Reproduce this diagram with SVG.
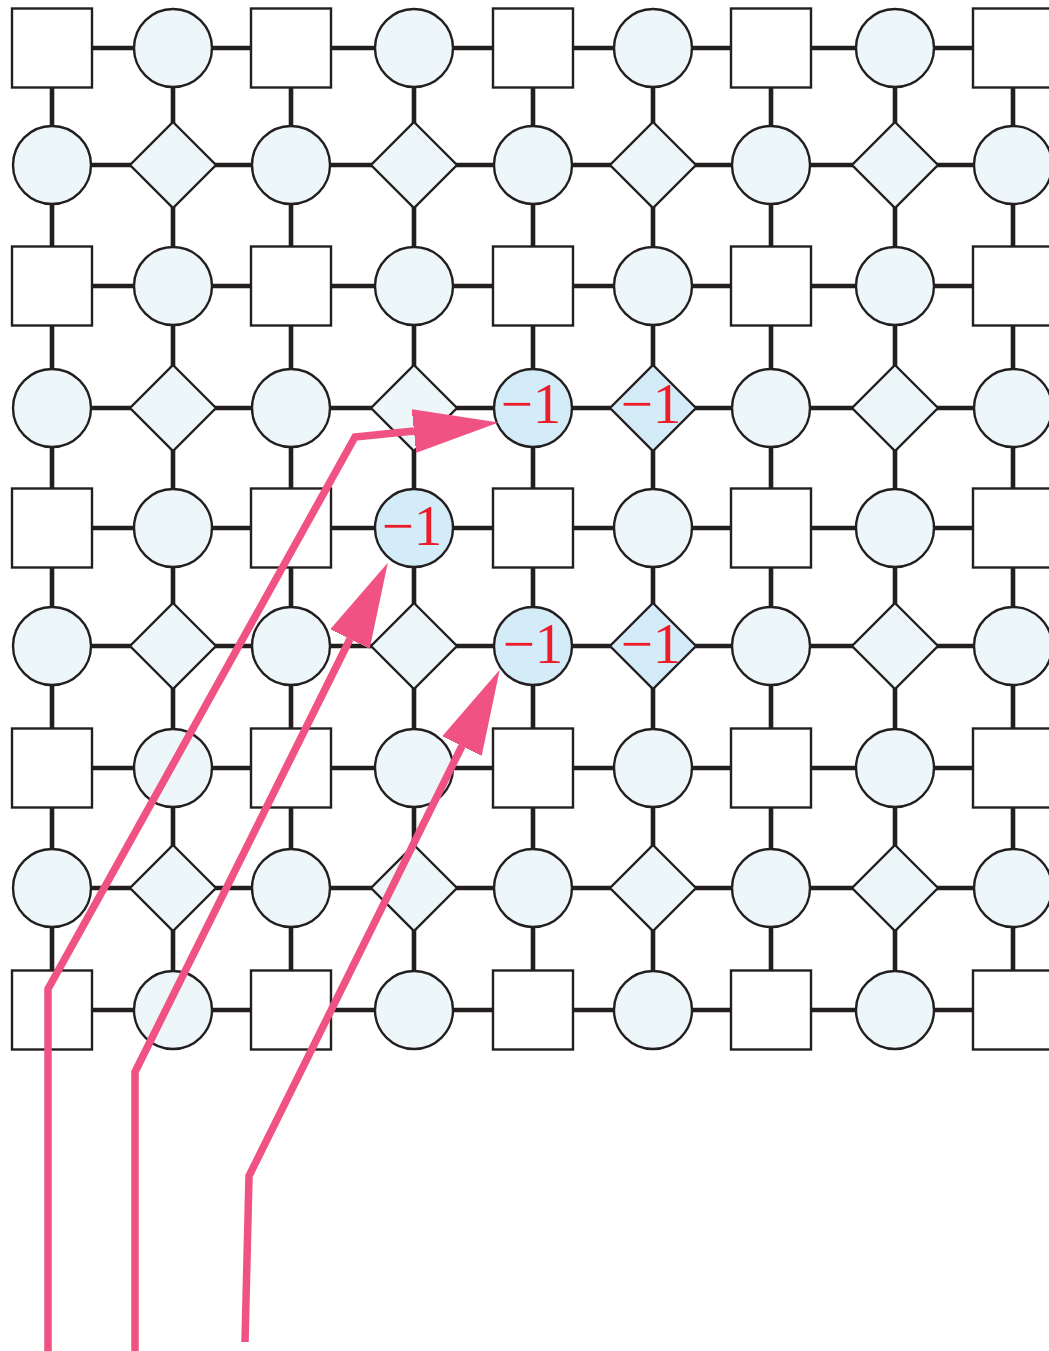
<svg xmlns="http://www.w3.org/2000/svg" width="1049" height="1351" viewBox="0 0 1049 1351">
<style>
.e{stroke:#231f20;stroke-width:4.6;fill:none}
.sq{fill:#ffffff;stroke:#231f20;stroke-width:2.4}
.ci{fill:#edf6f9;stroke:#231f20;stroke-width:2.4}
.hi{fill:#d3ecf8;stroke:#231f20;stroke-width:2.4}
.lb{font-family:"Liberation Serif",serif;font-size:57px;fill:#ec1c2a;text-anchor:middle}
.ar{stroke:#f05283;stroke-width:7.5;fill:none;stroke-linejoin:miter}
</style>
<defs>
<marker id="ah" markerUnits="userSpaceOnUse" markerWidth="90" markerHeight="50" viewBox="0 -25 90 50" refX="0" refY="0" orient="auto">
<path d="M-2,-22.5 L85,0 L-2,22.5 Z" fill="#f05283"/>
</marker>
</defs>
<g id="connectors">
<line class="e" x1="52" y1="48" x2="1049" y2="48"/>
<line class="e" x1="52" y1="165" x2="1049" y2="165"/>
<line class="e" x1="52" y1="286" x2="1049" y2="286"/>
<line class="e" x1="52" y1="408" x2="1049" y2="408"/>
<line class="e" x1="52" y1="528" x2="1049" y2="528"/>
<line class="e" x1="52" y1="646" x2="1049" y2="646"/>
<line class="e" x1="52" y1="768" x2="1049" y2="768"/>
<line class="e" x1="52" y1="888" x2="1049" y2="888"/>
<line class="e" x1="52" y1="1010" x2="1049" y2="1010"/>
<line class="e" x1="52" y1="48" x2="52" y2="1010"/>
<line class="e" x1="173" y1="48" x2="173" y2="1010"/>
<line class="e" x1="291" y1="48" x2="291" y2="1010"/>
<line class="e" x1="414" y1="48" x2="414" y2="1010"/>
<line class="e" x1="533" y1="48" x2="533" y2="1010"/>
<line class="e" x1="653" y1="48" x2="653" y2="1010"/>
<line class="e" x1="771" y1="48" x2="771" y2="1010"/>
<line class="e" x1="895" y1="48" x2="895" y2="1010"/>
<line class="e" x1="1013" y1="48" x2="1013" y2="1010"/>
</g>
<g id="row0">
<g id="n0_0"><rect class="sq" x="12" y="8.5" width="80" height="79"/></g>
<g id="n0_1"><circle class="ci" cx="173" cy="48" r="39"/></g>
<g id="n0_2"><rect class="sq" x="251" y="8.5" width="80" height="79"/></g>
<g id="n0_3"><circle class="ci" cx="414" cy="48" r="39"/></g>
<g id="n0_4"><rect class="sq" x="493" y="8.5" width="80" height="79"/></g>
<g id="n0_5"><circle class="ci" cx="653" cy="48" r="39"/></g>
<g id="n0_6"><rect class="sq" x="731" y="8.5" width="80" height="79"/></g>
<g id="n0_7"><circle class="ci" cx="895" cy="48" r="39"/></g>
<g id="n0_8"><rect class="sq" x="973" y="8.5" width="80" height="79"/></g>
</g>
<g id="row1">
<g id="n1_0"><circle class="ci" cx="52" cy="165" r="39"/></g>
<g id="n1_1"><polygon class="ci" points="173,122 216,165 173,208 130,165"/></g>
<g id="n1_2"><circle class="ci" cx="291" cy="165" r="39"/></g>
<g id="n1_3"><polygon class="ci" points="414,122 457,165 414,208 371,165"/></g>
<g id="n1_4"><circle class="ci" cx="533" cy="165" r="39"/></g>
<g id="n1_5"><polygon class="ci" points="653,122 696,165 653,208 610,165"/></g>
<g id="n1_6"><circle class="ci" cx="771" cy="165" r="39"/></g>
<g id="n1_7"><polygon class="ci" points="895,122 938,165 895,208 852,165"/></g>
<g id="n1_8"><circle class="ci" cx="1013" cy="165" r="39"/></g>
</g>
<g id="row2">
<g id="n2_0"><rect class="sq" x="12" y="246.5" width="80" height="79"/></g>
<g id="n2_1"><circle class="ci" cx="173" cy="286" r="39"/></g>
<g id="n2_2"><rect class="sq" x="251" y="246.5" width="80" height="79"/></g>
<g id="n2_3"><circle class="ci" cx="414" cy="286" r="39"/></g>
<g id="n2_4"><rect class="sq" x="493" y="246.5" width="80" height="79"/></g>
<g id="n2_5"><circle class="ci" cx="653" cy="286" r="39"/></g>
<g id="n2_6"><rect class="sq" x="731" y="246.5" width="80" height="79"/></g>
<g id="n2_7"><circle class="ci" cx="895" cy="286" r="39"/></g>
<g id="n2_8"><rect class="sq" x="973" y="246.5" width="80" height="79"/></g>
</g>
<g id="row3">
<g id="n3_0"><circle class="ci" cx="52" cy="408" r="39"/></g>
<g id="n3_1"><polygon class="ci" points="173,365 216,408 173,451 130,408"/></g>
<g id="n3_2"><circle class="ci" cx="291" cy="408" r="39"/></g>
<g id="n3_3"><polygon class="ci" points="414,365 457,408 414,451 371,408"/></g>
<g id="n3_4"><circle class="hi" cx="533" cy="408" r="39"/><text class="lb" x="531" y="423">−1</text></g>
<g id="n3_5"><polygon class="hi" points="653,365 696,408 653,451 610,408"/><text class="lb" x="651" y="423">−1</text></g>
<g id="n3_6"><circle class="ci" cx="771" cy="408" r="39"/></g>
<g id="n3_7"><polygon class="ci" points="895,365 938,408 895,451 852,408"/></g>
<g id="n3_8"><circle class="ci" cx="1013" cy="408" r="39"/></g>
</g>
<g id="row4">
<g id="n4_0"><rect class="sq" x="12" y="488.5" width="80" height="79"/></g>
<g id="n4_1"><circle class="ci" cx="173" cy="528" r="39"/></g>
<g id="n4_2"><rect class="sq" x="251" y="488.5" width="80" height="79"/></g>
<g id="n4_3"><circle class="hi" cx="414" cy="528" r="39"/><text class="lb" x="412" y="545">−1</text></g>
<g id="n4_4"><rect class="sq" x="493" y="488.5" width="80" height="79"/></g>
<g id="n4_5"><circle class="ci" cx="653" cy="528" r="39"/></g>
<g id="n4_6"><rect class="sq" x="731" y="488.5" width="80" height="79"/></g>
<g id="n4_7"><circle class="ci" cx="895" cy="528" r="39"/></g>
<g id="n4_8"><rect class="sq" x="973" y="488.5" width="80" height="79"/></g>
</g>
<g id="row5">
<g id="n5_0"><circle class="ci" cx="52" cy="646" r="39"/></g>
<g id="n5_1"><polygon class="ci" points="173,603 216,646 173,689 130,646"/></g>
<g id="n5_2"><circle class="ci" cx="291" cy="646" r="39"/></g>
<g id="n5_3"><polygon class="ci" points="414,603 457,646 414,689 371,646"/></g>
<g id="n5_4"><circle class="hi" cx="533" cy="646" r="39"/><text class="lb" x="533" y="663">−1</text></g>
<g id="n5_5"><polygon class="hi" points="653,603 696,646 653,689 610,646"/><text class="lb" x="651" y="663">−1</text></g>
<g id="n5_6"><circle class="ci" cx="771" cy="646" r="39"/></g>
<g id="n5_7"><polygon class="ci" points="895,603 938,646 895,689 852,646"/></g>
<g id="n5_8"><circle class="ci" cx="1013" cy="646" r="39"/></g>
</g>
<g id="row6">
<g id="n6_0"><rect class="sq" x="12" y="728.5" width="80" height="79"/></g>
<g id="n6_1"><circle class="ci" cx="173" cy="768" r="39"/></g>
<g id="n6_2"><rect class="sq" x="251" y="728.5" width="80" height="79"/></g>
<g id="n6_3"><circle class="ci" cx="414" cy="768" r="39"/></g>
<g id="n6_4"><rect class="sq" x="493" y="728.5" width="80" height="79"/></g>
<g id="n6_5"><circle class="ci" cx="653" cy="768" r="39"/></g>
<g id="n6_6"><rect class="sq" x="731" y="728.5" width="80" height="79"/></g>
<g id="n6_7"><circle class="ci" cx="895" cy="768" r="39"/></g>
<g id="n6_8"><rect class="sq" x="973" y="728.5" width="80" height="79"/></g>
</g>
<g id="row7">
<g id="n7_0"><circle class="ci" cx="52" cy="888" r="39"/></g>
<g id="n7_1"><polygon class="ci" points="173,845 216,888 173,931 130,888"/></g>
<g id="n7_2"><circle class="ci" cx="291" cy="888" r="39"/></g>
<g id="n7_3"><polygon class="ci" points="414,845 457,888 414,931 371,888"/></g>
<g id="n7_4"><circle class="ci" cx="533" cy="888" r="39"/></g>
<g id="n7_5"><polygon class="ci" points="653,845 696,888 653,931 610,888"/></g>
<g id="n7_6"><circle class="ci" cx="771" cy="888" r="39"/></g>
<g id="n7_7"><polygon class="ci" points="895,845 938,888 895,931 852,888"/></g>
<g id="n7_8"><circle class="ci" cx="1013" cy="888" r="39"/></g>
</g>
<g id="row8">
<g id="n8_0"><rect class="sq" x="12" y="970.5" width="80" height="79"/></g>
<g id="n8_1"><circle class="ci" cx="173" cy="1010" r="39"/></g>
<g id="n8_2"><rect class="sq" x="251" y="970.5" width="80" height="79"/></g>
<g id="n8_3"><circle class="ci" cx="414" cy="1010" r="39"/></g>
<g id="n8_4"><rect class="sq" x="493" y="970.5" width="80" height="79"/></g>
<g id="n8_5"><circle class="ci" cx="653" cy="1010" r="39"/></g>
<g id="n8_6"><rect class="sq" x="731" y="970.5" width="80" height="79"/></g>
<g id="n8_7"><circle class="ci" cx="895" cy="1010" r="39"/></g>
<g id="n8_8"><rect class="sq" x="973" y="970.5" width="80" height="79"/></g>
</g>
<g id="arrows">
<polyline class="ar" points="48,1351 48,989 355,437 414,431" marker-end="url(#ah)"/>
<polyline class="ar" points="135,1351 135,1072 350,639" marker-end="url(#ah)"/>
<polyline class="ar" points="245,1342 249,1176 462,746" marker-end="url(#ah)"/>
</g>
</svg>
